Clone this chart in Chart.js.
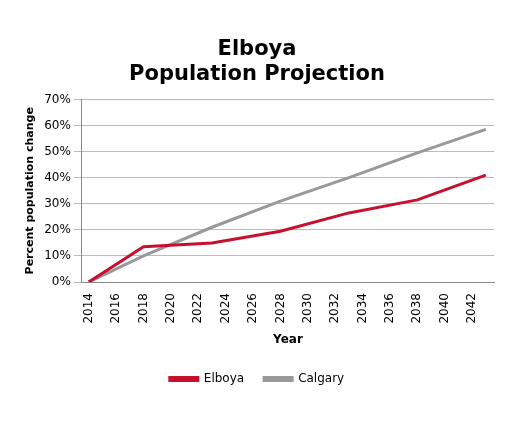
<!DOCTYPE html>
<html><head><script src="https://cdn.jsdelivr.net/npm/chart.js@4"></script>
<style>body{margin:0;background:#fff}#w{width:509px;height:425px}</style></head>
<body><div id="w"><canvas id="c"></canvas></div>
<script>
const years=[2014,2018,2023,2028,2033,2038,2043];
const elboya=[0,13.5,15,19.5,26.5,31.5,41];
const calgary=[0,10,21,31,40,49.5,58.5];
const tickYears=[2014,2016,2018,2020,2022,2024,2026,2028,2030,2032,2034,2036,2038,2040,2042];
const F='"DejaVu Sans", sans-serif';
new Chart(document.getElementById('c'),{type:'line',
data:{datasets:[
{label:'Elboya',data:years.map((x,i)=>({x,y:elboya[i]})),borderColor:'#c8102e',backgroundColor:'#c8102e',borderWidth:3,pointRadius:0,tension:0},
{label:'Calgary',data:years.map((x,i)=>({x,y:calgary[i]})),borderColor:'#999999',backgroundColor:'#999999',borderWidth:3,pointRadius:0,tension:0}]},
options:{responsive:true,maintainAspectRatio:false,animation:false,
layout:{padding:{left:20,right:15,top:37,bottom:30}},
plugins:{title:{display:true,text:['Elboya','Population Projection'],color:'#000',font:{family:F,size:21,weight:'bold'},padding:{top:0,bottom:12},lineHeight:1.32},
legend:{position:'bottom',labels:{boxWidth:28,boxHeight:3,color:'#000',font:{family:F,size:12},padding:20}}},
scales:{x:{type:'linear',min:2013.5,max:2043.6,
afterBuildTicks:a=>{a.ticks=tickYears.map(v=>({value:v}))},
ticks:{color:'#000',font:{family:F,size:12},minRotation:90,maxRotation:90,callback:v=>String(v)},
grid:{display:false},border:{color:'#888'},
title:{display:true,text:'Year',color:'#000',font:{family:F,size:12,weight:'bold'},padding:{top:6,bottom:6}}},
y:{min:0,max:70,ticks:{stepSize:10,color:'#000',font:{family:F,size:12},callback:v=>v+'%'},
grid:{color:'#bbb'},border:{color:'#888'},
title:{display:true,text:'Percent population change',color:'#000',font:{family:F,size:11,weight:'bold'}}}}}});
</script></body></html>
